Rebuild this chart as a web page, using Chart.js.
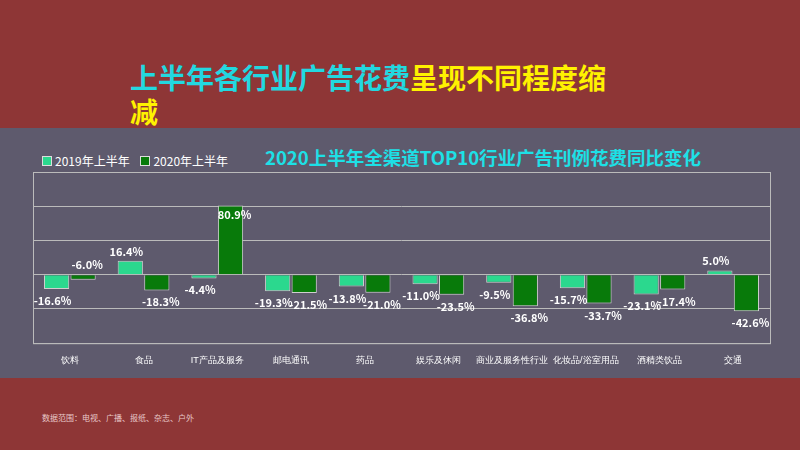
<!DOCTYPE html>
<html><head><meta charset="utf-8">
<script src="https://cdn.jsdelivr.net/npm/chart.js@4"></script>
<style>
body{margin:0;width:800px;height:450px;background:#8E3636;position:relative;overflow:hidden;font-family:"Noto Sans CJK SC",sans-serif}
#t{position:absolute;left:130px;top:60px;font-size:28px;font-weight:bold;line-height:34px;width:490px}
#band{position:absolute;left:0;top:128px;width:800px;height:250px;background:#5E5A6D}
#ct{position:absolute;left:265px;top:144px;color:#1DE0E6;font-size:18.5px;font-weight:bold}
#lg{position:absolute;left:42px;top:152px;color:#fff;font-size:12px}
#lg span{display:inline-block;width:8px;height:8px;margin-right:3px;border:1px solid #ddd}
#f{position:absolute;left:42px;top:412px;color:#e8c8c8;font-size:8px}
#w{position:absolute;left:0;top:160px;width:800px;height:210px}
</style></head><body>
<div id="t"><span style="color:#22D8E0">上半年各行业广告花费</span><span style="color:#FFF200">呈现不同程度缩减</span></div>
<div id="band"></div>
<div id="ct">2020上半年全渠道TOP10行业广告刊例花费同比变化</div>
<div id="lg"><span style="background:#2BD88E"></span>2019年上半年 &nbsp;&nbsp;&nbsp;<span style="background:#087A0A"></span>2020年上半年</div>
<div id="f">数据范围：电视、广播、报纸、杂志、户外</div>
<div id="w"><canvas id="c" width="800" height="210"></canvas></div>
<script>
const categories=["饮料","食品","IT产品及服务","邮电通讯","药品","娱乐及休闲","商业及服务性行业","化妆品/浴室用品","酒精类饮品","交通"];
const v2019=[-16.6,16.4,-4.4,-19.3,-13.8,-11.0,-9.5,-15.7,-23.1,5.0];
const v2020=[-6.0,-18.3,80.9,-21.5,-21.0,-23.5,-36.8,-33.7,-17.4,-42.6];
const lbl={id:'lbl',afterDatasetsDraw(ch){const x=ch.ctx;x.save();x.font='bold 11px "Noto Sans CJK SC"';x.fillStyle='#fff';x.textAlign='center';
ch.data.datasets.forEach((d,i)=>{ch.getDatasetMeta(i).data.forEach((b,j)=>{const v=d.data[j];let y;
if(v>60){y=b.y+14}else if(v>=0){y=b.y-5}else{y=b.y+16}
if(i===1&&j===0)y=b.base-6;
const dx=i===0?-4:4;
x.fillText(v.toFixed(1)+'%',b.x+dx,y)})});x.restore();}};
const frame={id:'frame',afterDraw(ch){const a=ch.chartArea,x=ch.ctx;x.save();x.strokeStyle='#bbb';x.lineWidth=1;x.strokeRect(a.left+.5,a.top+.5,a.right-a.left,a.bottom-a.top);x.restore();}};
new Chart(document.getElementById('c'),{type:'bar',data:{labels:categories,datasets:[
{data:v2019,backgroundColor:'#2BD88E',borderColor:'#cfcfcf',borderWidth:1,categoryPercentage:0.72,barPercentage:0.95},
{data:v2020,backgroundColor:'#087A0A',borderColor:'#cfcfcf',borderWidth:1,categoryPercentage:0.72,barPercentage:0.95}]},
options:{responsive:false,animation:false,layout:{padding:{left:33,right:30,top:12,bottom:0}},
plugins:{legend:{display:false},tooltip:{enabled:false}},
scales:{x:{grid:{display:false},border:{color:'#bbb'},ticks:{color:'#fff',font:{size:9},maxRotation:0,autoSkip:false,padding:4}},
y:{min:-80,max:120,afterFit(s){s.width=0},ticks:{display:false,stepSize:40},grid:{color:'#bbb',drawTicks:false},border:{display:false}}}},plugins:[lbl,frame]});
</script></body></html>
